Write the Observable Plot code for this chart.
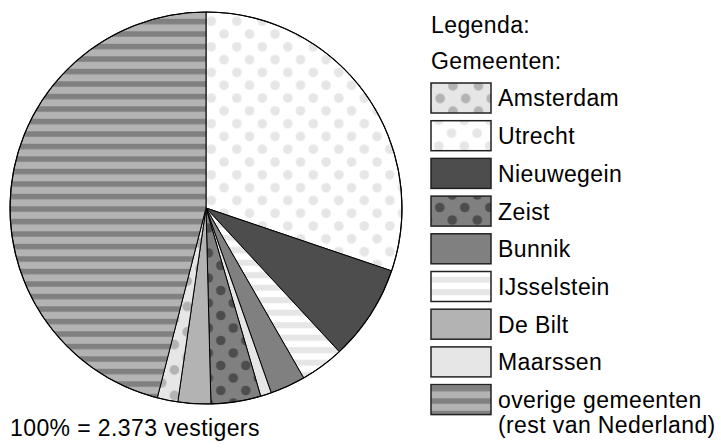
<!DOCTYPE html>
<html><head><meta charset="utf-8">
<script src="https://cdn.jsdelivr.net/npm/d3@7"></script>
<script src="https://cdn.jsdelivr.net/npm/@observablehq/plot@0.6"></script>
<style>
html,body{margin:0;padding:0;background:#fff;}
#chart svg text{letter-spacing:0.4px;}
</style></head><body><div id="chart"></div>
<script>
// Pie slices, clockwise from 12 o'clock (percent of 2.373 vestigers)
const categories = ["Utrecht","Nieuwegein","IJsselstein","Bunnik","Maarssen","Zeist","De Bilt","Amsterdam","overige gemeenten"];
const shares = [30.2, 7.9, 3.6, 2.9, 0.9, 4.1, 2.7, 1.7, 46.0];
// Legend
const legendOrder = ["Amsterdam","Utrecht","Nieuwegein","Zeist","Bunnik","IJsselstein","De Bilt","Maarssen","overige gemeenten"];
const legendLabels = ["Amsterdam","Utrecht","Nieuwegein","Zeist","Bunnik","IJsselstein","De Bilt","Maarssen","overige gemeenten\n(rest van Nederland)"];
const fills = ["url(#p-ams)","url(#p-utr)","#4d4d4d","url(#p-zei)","#808080","url(#p-ijs)","#b3b3b3","#e6e6e6","url(#p-ove)"];
const titleLines = ["Legenda:","Gemeenten:"];
const caption = "100% = 2.373 vestigers";

const pieData = categories.map((name, i) => ({name, share: shares[i]}));

// layout
const CX = 206, CY = 208, R = 196;

function defsMark() {
  const g = d3.create("svg:g");
  const defs = g.append("defs");
  function dots(id, bg, fg, ox, oy, w, h, r) {
    const p = defs.append("pattern").attr("id", id).attr("patternUnits", "userSpaceOnUse")
      .attr("x", ox).attr("y", oy).attr("width", w).attr("height", h);
    p.append("rect").attr("width", w).attr("height", h).attr("fill", bg);
    for (const [cx, cy] of [[0,0],[w,0],[0,h],[w,h],[w/2,h/2]])
      p.append("circle").attr("cx", cx).attr("cy", cy).attr("r", r).attr("fill", fg);
  }
  function stripes(id, bg, fg, oy, period, band) {
    const p = defs.append("pattern").attr("id", id).attr("patternUnits", "userSpaceOnUse")
      .attr("x", 0).attr("y", oy).attr("width", 20).attr("height", period);
    p.append("rect").attr("width", 20).attr("height", period).attr("fill", bg);
    p.append("rect").attr("width", 20).attr("height", band).attr("fill", fg);
  }
  dots("p-utr", "#ffffff", "#e6e6e6", 5.3, 18, 25.5, 25.6, 4.8);
  dots("p-ams", "#e6e6e6", "#b3b3b3", 6.7, 22.3, 25.5, 25.4, 4.8);
  dots("p-zei", "#808080", "#4d4d4d", 2.3, 20, 25, 25, 4.8);
  stripes("p-ijs", "#ffffff", "#e6e6e6", 1.7, 12.5, 6);
  stripes("p-ove", "#b3b3b3", "#808080", 10.8, 12.5, 5.5);
  return g.node();
}

function pieMark(index, scales) {
  const color = (scales && typeof scales.color === "function") ? scales.color : (n => fills[legendOrder.indexOf(n)]);
  const arcs = d3.pie().sort(null).value(d => d.share)(pieData);
  const arc = d3.arc().innerRadius(0).outerRadius(R);
  const g = d3.create("svg:g").attr("transform", `translate(${CX},${CY})`);
  g.selectAll("path").data(arcs).join("path")
    .attr("d", arc)
    .attr("fill", d => color(d.data.name))
    .attr("stroke", "#000").attr("stroke-width", 1).attr("stroke-linejoin", "round");
  g.append("circle").attr("r", R).attr("fill", "none").attr("stroke", "#000").attr("stroke-width", 1.2);
  return g.node();
}

const plot = Plot.plot({
  width: 721, height: 448, margin: 0,
  x: {type: "identity", axis: null},
  y: {type: "identity", axis: null},
  color: {domain: legendOrder, range: fills},
  style: {fontFamily: "'Liberation Sans', Arial, Helvetica, sans-serif", background: "white", overflow: "visible"},
  marks: [
    defsMark,
    pieMark,
    Plot.rect(legendOrder, {
      x1: () => 431, x2: () => 491,
      y1: (d, i) => 83 + i * 37.7, y2: (d, i) => 113 + i * 37.7,
      fill: d => d, stroke: "#222", strokeWidth: 1.5
    }),
    Plot.text(legendLabels, {
      x: () => 497.5, y: (d, i) => 88 + i * 37.7, text: d => d,
      textAnchor: "start", lineAnchor: "top", fontSize: 23, lineHeight: 1.1, fill: "#000"
    }),
    Plot.text(titleLines, {
      x: () => 430.5, y: (d, i) => 32.3 + i * 36, text: d => d,
      textAnchor: "start", lineAnchor: "bottom", fontSize: 23, fill: "#000"
    }),
    Plot.text([caption], {
      x: () => 9.5, y: () => 435, text: d => d,
      textAnchor: "start", lineAnchor: "bottom", fontSize: 23, fill: "#000"
    })
  ]
});
document.getElementById("chart").append(plot);
</script></body></html>
